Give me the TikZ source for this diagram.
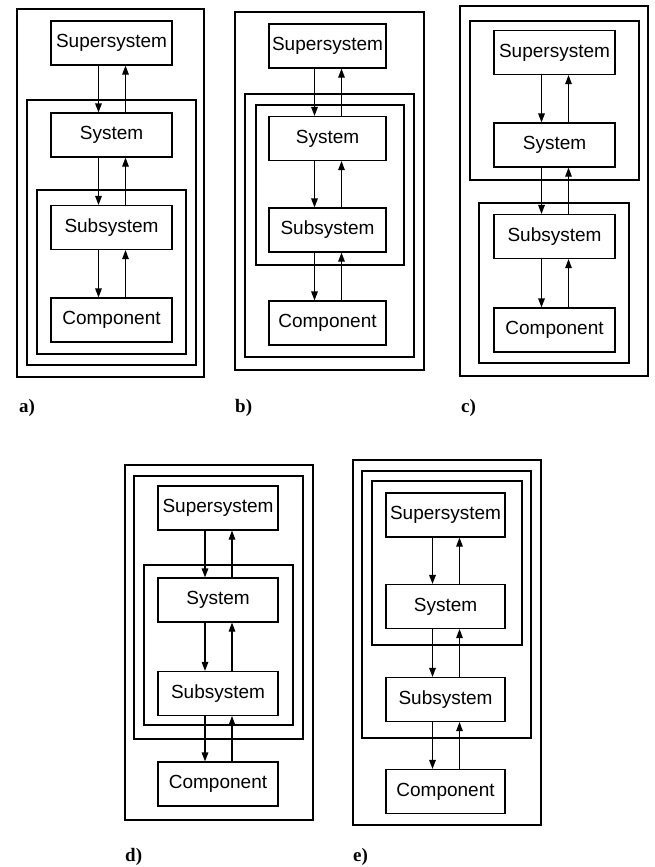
\documentclass[tikz,border=0pt]{standalone}
\usepackage{fontspec}
\setmainfont{Liberation Sans}
\newfontfamily\lblfont{Liberation Serif}
\usetikzlibrary{arrows.meta}
\newcommand\arrowpair[2]{%
  \draw[dn] ([xshift=-13pt]#1.south) -- ([xshift=-13pt]#2.north);
  \draw[upar] ([xshift=14pt]#2.north) -- ([xshift=14pt]#1.south);}
\begin{document}
\begin{tikzpicture}[x=1pt,y=-1pt,
 box/.style={draw, line width=1.1pt, minimum height=44pt, inner sep=0pt, font=\fontsize{19}{22}\selectfont},
 fr1/.style={draw, line width=1.9pt},
 fr2/.style={draw, line width=2.2pt},
 fr3/.style={draw, line width=2.7pt},
 dn/.style={line width=1.4pt, -{Triangle[length=9pt,width=6.5pt]}},
 upar/.style={line width=1.1pt, -{Triangle[length=9pt,width=6.5pt]}},
 lbl/.style={anchor=west, font=\lblfont\bfseries\fontsize{19}{22}\selectfont, inner sep=0pt}]
\fill[white] (0,0) rectangle (655,867);
\useasboundingbox (0,0) rectangle (655,867);

% ---------- panel a ----------
\draw[fr1] (17,9) rectangle (204,377);
\draw[fr2] (27,100) rectangle (196,365);
\draw[fr3] (37,190) rectangle (186,354);
\node[box, minimum width=121pt] (aS) at (111.5,43) {Supersystem};
\node[box, minimum width=121pt] (aY) at (111.5,135) {System};
\node[box, minimum width=121pt] (aB) at (111.5,227.5) {Subsystem};
\node[box, minimum width=121pt] (aC) at (111.5,320) {Component};
\arrowpair{aS}{aY}
\arrowpair{aY}{aB}
\arrowpair{aB}{aC}
\node[lbl] (la) at (19,408) {a)};

% ---------- panel b ----------
\draw[fr1] (235,12) rectangle (424,370);
\draw[fr2] (245,94) rectangle (414,357);
\draw[fr3] (256,105) rectangle (404,265);
\node[box, minimum width=117pt] (bS) at (327.5,46) {Supersystem};
\node[box, minimum width=117pt] (bY) at (327.5,138.5) {System};
\node[box, minimum width=117pt] (bB) at (327.5,230) {Subsystem};
\node[box, minimum width=117pt] (bC) at (327.5,323) {Component};
\arrowpair{bS}{bY}
\arrowpair{bY}{bB}
\arrowpair{bB}{bC}
\node[lbl] (lb) at (235,408) {b)};

% ---------- panel c ----------
\draw[fr1] (460,6) rectangle (648,376);
\draw[fr2] (470,21) rectangle (639,180);
\draw[fr2] (479,203) rectangle (629,363);
\node[box, minimum width=121pt] (cS) at (554.5,52.5) {Supersystem};
\node[box, minimum width=121pt] (cY) at (554.5,145) {System};
\node[box, minimum width=121pt] (cB) at (554.5,236.5) {Subsystem};
\node[box, minimum width=121pt] (cC) at (554.5,330) {Component};
\arrowpair{cS}{cY}
\arrowpair{cY}{cB}
\arrowpair{cB}{cC}
\node[lbl] (lc) at (461,408) {c)};

% ---------- panel d ----------
\draw[fr1] (125,465) rectangle (313,820);
\draw[fr2] (134,476) rectangle (303,739);
\draw[fr3] (144,565) rectangle (293,725);
\node[box, minimum width=120pt] (dS) at (218,508) {Supersystem};
\node[box, minimum width=120pt] (dY) at (218,600) {System};
\node[box, minimum width=120pt] (dB) at (218,693.5) {Subsystem};
\node[box, minimum width=120pt] (dC) at (218,784) {Component};
\arrowpair{dS}{dY}
\arrowpair{dY}{dB}
\arrowpair{dB}{dC}
\node[lbl] (ld) at (125,857) {d)};

% ---------- panel e ----------
\draw[fr1] (353,460) rectangle (541,825);
\draw[fr2] (362,471) rectangle (531,738);
\draw[fr3] (372,481) rectangle (522,645);
\node[box, minimum width=119pt] (eS) at (445.5,515) {Supersystem};
\node[box, minimum width=119pt] (eY) at (445.5,606.5) {System};
\node[box, minimum width=119pt] (eB) at (445.5,699.5) {Subsystem};
\node[box, minimum width=119pt] (eC) at (445.5,791.5) {Component};
\arrowpair{eS}{eY}
\arrowpair{eY}{eB}
\arrowpair{eB}{eC}
\node[lbl] (le) at (353,857) {e)};
\end{tikzpicture}
\end{document}
